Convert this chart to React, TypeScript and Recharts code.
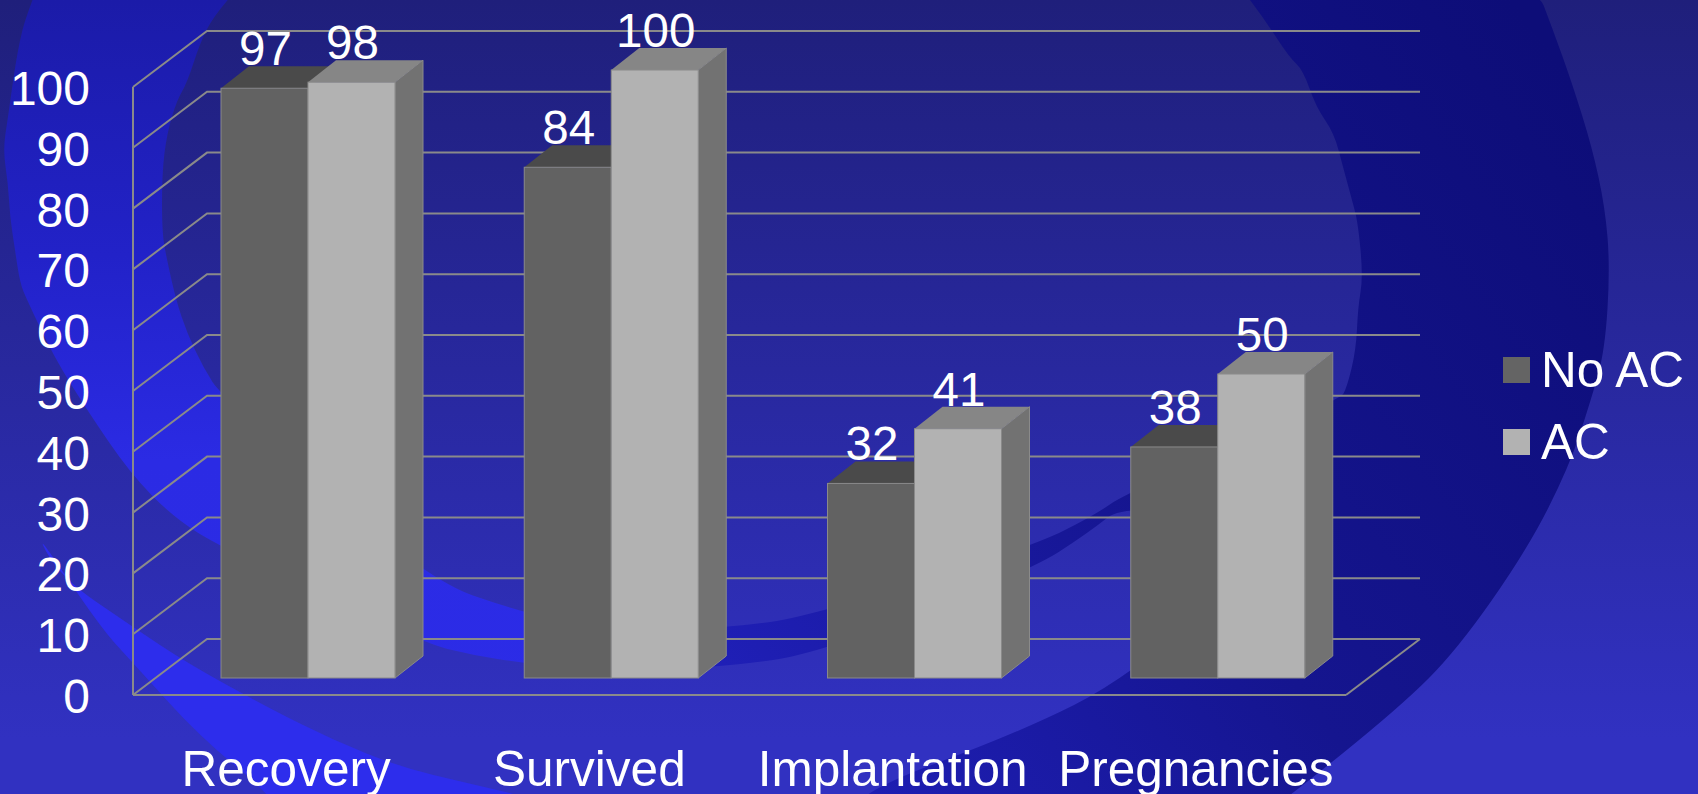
import React from "react";
import { BarChart, Bar, XAxis, YAxis, CartesianGrid, LabelList, Legend } from "recharts";

const categories = ["Recovery", "Survived", "Implantation", "Pregnancies"];
const noAcValues = [97, 84, 32, 38];
const acValues = [98, 100, 41, 50];
const yTicks = [0, 10, 20, 30, 40, 50, 60, 70, 80, 90, 100];

const chartData = categories.map((name, i) => ({ name, noAc: noAcValues[i], ac: acValues[i] }));

const FONT = '"Liberation Sans", Arial, sans-serif';
const AXIS_GREY = "#8a8a8a";
const FLOOR_Y = 695;

// wall depth and bar depth of the fake 3D box
const WALL_DX = 74;
const WALL_DY = -56;
const BAR_SHIFT_X = 23;
const BAR_SHIFT_Y = -17;
const BAR_DX = 28;
const BAR_DY = -22;

// outlines of the swirl behind the chart
const swirlLeft = [
  [40, -20], [25, 20], [20, 40], [15, 67], [8, 117], [3, 150], [8, 183], [10, 217], [15, 250], [20, 283], [27, 300],
  [54, 357], [87, 410], [130, 473], [173, 517], [222, 548], [423, 643], [472, 655], [523, 663], [610, 672], [610, 630],
  [523, 613], [423, 578], [222, 397], [203, 367], [187, 333], [176, 300], [167, 260], [162, 233], [162, 173],
  [167, 133], [177, 100], [187, 83], [200, 43], [213, 17], [245, -20],
];
const swirlRight = [
  [1235, -20], [1534, -20], [1553, 30], [1572, 83], [1592, 147], [1605, 207], [1610, 267], [1605, 350], [1591, 400],
  [1569, 467], [1527, 550], [1457, 650], [1400, 707], [1285, 800], [1240, 830], [853, 830], [853, 794], [1018, 733],
  [1130, 677], [1300, 530], [1126, 503], [1088, 533], [1031, 570], [821, 653], [725, 667], [600, 672], [600, 632],
  [725, 628], [808, 617], [1031, 547], [1095, 515], [1126, 493], [1340, 400], [1347, 387], [1356, 350], [1358, 307],
  [1363, 277], [1358, 223], [1352, 200], [1343, 167], [1334, 133], [1316, 107], [1303, 70], [1289, 57], [1265, 20],
];
const swirlStreak = [
  [33, 527], [60, 577], [133, 627], [187, 663], [267, 707], [333, 740], [400, 767], [467, 783], [540, 800], [540, 830],
  [290, 830], [270, 794], [200, 737], [133, 663], [100, 627],
];

// closed outline with the corners rounded off
function smoothPath(points: number[][]) {
  const mid = (a: number[], b: number[]) => [(a[0] + b[0]) / 2, (a[1] + b[1]) / 2];
  const start = mid(points[points.length - 1], points[0]);
  let d = `M${start[0]},${start[1]}`;
  points.forEach((p, i) => {
    const m = mid(p, points[(i + 1) % points.length]);
    d += ` Q${p[0]},${p[1]} ${m[0]},${m[1]}`;
  });
  return d + " Z";
}

function WallLine(props: any) {
  const { x1, x2, y1 } = props;
  const isFloor = Math.abs(y1 - FLOOR_Y) < 1;
  return (
    <g fill="none" stroke={AXIS_GREY} strokeWidth={2}>
      <path d={`M${x1},${y1} L${x1 + WALL_DX},${y1 + WALL_DY} L${x2 + WALL_DX},${y1 + WALL_DY}`} />
      {isFloor && <path d={`M${x2},${y1} L${x2 + WALL_DX},${y1 + WALL_DY}`} />}
    </g>
  );
}

function Box3D(props: any) {
  const { x, y, width, height, front, top, side, drawSide } = props;
  const fx = x + BAR_SHIFT_X;
  const fy = y + BAR_SHIFT_Y;
  const r = fx + width;
  const b = fy + height;
  return (
    <g>
      <path d={`M${fx},${fy} L${fx + BAR_DX},${fy + BAR_DY} L${r + BAR_DX},${fy + BAR_DY} L${r},${fy} Z`} fill={top} />
      {drawSide && (
        <path d={`M${r},${fy} L${r + BAR_DX},${fy + BAR_DY} L${r + BAR_DX},${b + BAR_DY} L${r},${b} Z`} fill={side} stroke={AXIS_GREY} strokeWidth={1} />
      )}
      <rect x={fx} y={fy} width={width} height={height} fill={front} stroke={AXIS_GREY} strokeWidth={1} />
    </g>
  );
}

function ValueLabel(props: any) {
  const { x, y, width, value } = props;
  return (
    <text x={x + BAR_SHIFT_X + width / 2 + 1} y={y + BAR_SHIFT_Y - 23} textAnchor="middle" fill="#fff" fontSize={47.5} fontFamily={FONT}>
      {value}
    </text>
  );
}

function LegendBlock(props: any) {
  const items = props.payload || [];
  return (
    <div style={{ fontFamily: FONT, fontSize: 49.5, color: "#fff", lineHeight: "72px" }}>
      {items.map((item: any) => (
        <div key={item.value} style={{ display: "flex", alignItems: "center", height: 72 }}>
          <span style={{ width: 27, height: 26, background: item.color, marginRight: 11 }} />
          <span>{item.value}</span>
        </div>
      ))}
    </div>
  );
}

// slide backdrop: one swirl band over a vertical blue wash
function Backdrop() {
  return (
    <svg width={1698} height={794} style={{ position: "absolute", left: 0, top: 0 }}>
      <defs>
        <linearGradient id="baseFill" x1="0" y1="0" x2="0" y2="794" gradientUnits="userSpaceOnUse">
          <stop offset="0" stopColor="#1f1f7b" />
          <stop offset="0.93" stopColor="#3131c1" />
          <stop offset="1" stopColor="#3131c1" />
        </linearGradient>
        <linearGradient id="leftFill" x1="0" y1="0" x2="0" y2="794" gradientUnits="userSpaceOnUse">
          <stop offset="0" stopColor="#1b1ba8" />
          <stop offset="0.32" stopColor="#2222c8" />
          <stop offset="0.58" stopColor="#2b2be4" />
          <stop offset="1" stopColor="#2c2ce8" />
        </linearGradient>
        <linearGradient id="rightFill" x1="1550" y1="50" x2="700" y2="700" gradientUnits="userSpaceOnUse">
          <stop offset="0" stopColor="#0d0d78" />
          <stop offset="0.55" stopColor="#15158f" />
          <stop offset="0.85" stopColor="#1c1cab" />
          <stop offset="1" stopColor="#2020ba" />
        </linearGradient>
      </defs>
      <rect width={1698} height={794} fill="url(#baseFill)" />
      <path d={smoothPath(swirlRight)} fill="url(#rightFill)" />
      <path d={smoothPath(swirlLeft)} fill="url(#leftFill)" />
      <path d={smoothPath(swirlStreak)} fill="#2d2dec" />
    </svg>
  );
}

export default function App() {
  return (
    <div style={{ position: "absolute", left: 0, top: 0, width: 1698, height: 794, overflow: "hidden", fontFamily: FONT }}>
      <Backdrop />
      <div style={{ position: "absolute", left: 0, top: 0 }}>
        <BarChart
          width={1698}
          height={794}
          data={chartData}
          barSize={87}
          barGap={0}
          margin={{ top: 87, right: 352, bottom: 0, left: 0 }}
        >
          <CartesianGrid vertical={false} horizontal={<WallLine />} syncWithTicks />
          <XAxis
            dataKey="name"
            axisLine={{ stroke: AXIS_GREY, strokeWidth: 2 }}
            tickLine={false}
            interval={0}
            height={99}
            tick={{ fill: "#fff", fontSize: 49.5, fontFamily: FONT, dy: 48, dx: 1.5 }}
          />
          <YAxis
            domain={[0, 100]}
            ticks={yTicks}
            interval={0}
            axisLine={{ stroke: AXIS_GREY, strokeWidth: 2 }}
            tickLine={false}
            width={133}
            tickMargin={37}
            tick={{ fill: "#fff", fontSize: 48, fontFamily: FONT, dy: 1 }}
          />
          <Legend
            layout="vertical"
            verticalAlign="middle"
            align="center"
            itemSorter={null}
            content={<LegendBlock />}
            wrapperStyle={{ left: 1503, top: 334, width: 195 }}
          />
          <Bar
            dataKey="noAc"
            name="No AC"
            fill="#646464"
            isAnimationActive={false}
            shape={<Box3D front="#626262" top="#4a4a4a" side="#4a4a4a" drawSide={false} />}
          >
            <LabelList dataKey="noAc" content={<ValueLabel />} />
          </Bar>
          <Bar
            dataKey="ac"
            name="AC"
            fill="#b2b2b2"
            isAnimationActive={false}
            shape={<Box3D front="#b2b2b2" top="#868686" side="#727272" drawSide />}
          >
            <LabelList dataKey="ac" content={<ValueLabel />} />
          </Bar>
        </BarChart>
      </div>
    </div>
  );
}
